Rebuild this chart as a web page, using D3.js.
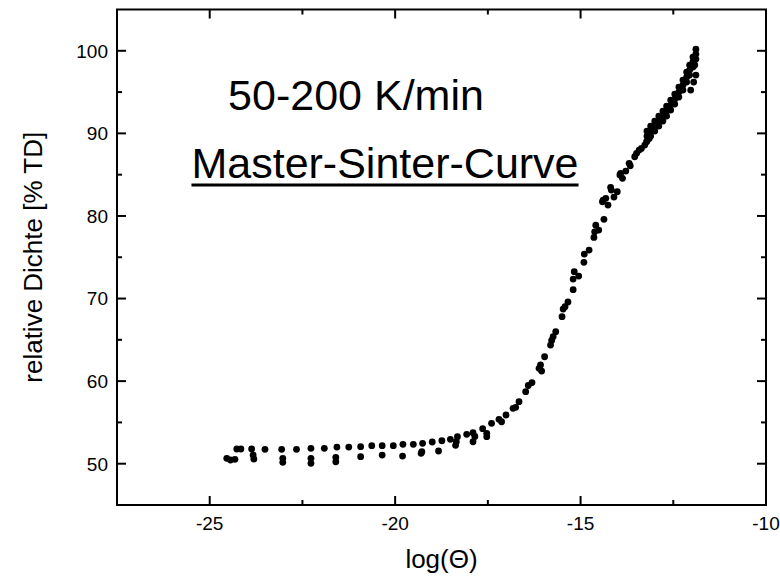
<!DOCTYPE html>
<html>
<head>
<meta charset="utf-8">
<script src="https://cdn.jsdelivr.net/npm/d3@7/dist/d3.min.js"></script>
<style>
  html, body { margin: 0; padding: 0; background: #fff; }
  svg { display: block; font-family: "Liberation Sans", Arial, sans-serif; }
</style>
</head>
<body>
<svg id="chart" width="780" height="583"></svg>
<script>
// ---- data ----
const logTheta = [
  -24.54, -24.44, -24.32, -24.27, -24.16, -23.87, -23.83, -23.81, -23.51, -23.06,
  -23.03, -23.03, -22.66, -22.27, -22.27, -22.27, -21.91, -21.57, -21.60, -21.60,
  -21.25, -20.93, -20.93, -20.63, -20.35, -20.35, -20.05, -19.79, -19.80, -19.51,
  -19.26, -19.28, -19.30, -19.00, -18.74, -18.83, -18.51, -18.32, -18.35, -18.37,
  -18.07, -17.90, -17.90, -17.85, -17.64, -17.53, -17.53, -17.40, -17.20, -17.13,
  -17.01, -16.82, -16.75, -16.66,
  -16.48, -16.41, -16.31, -16.12, -16.08, -16.05, -15.97, -15.81, -15.78, -15.74,
  -15.67, -15.50, -15.47, -15.42, -15.34, -15.20, -15.20, -15.17, -15.05, -14.91,
  -14.90, -14.77, -14.64, -14.62, -14.59, -14.51, -14.37, -14.41, -14.39, -14.32,
  -14.26, -14.17, -14.19, -14.10, -14.01, -13.94, -13.92, -13.87, -13.78, -13.69,
  -13.66, -13.54, -13.49, -13.42, -13.36, -13.27, -13.22, -13.15,
  -13.21, -13.11, -13.00, -12.89, -12.78, -12.68, -12.57, -12.46, -12.35, -12.24, -12.14, -12.06, -11.97, -11.89,
  -13.21, -13.11, -13.00, -12.89, -12.78, -12.68, -12.57, -12.46, -12.35, -12.24, -12.14, -12.06, -11.97, -11.89,
  -13.21, -13.11, -13.00, -12.89, -12.78, -12.68, -12.57, -12.46, -12.35, -12.24, -12.14, -12.06, -11.97, -11.89,
  -11.92, -11.89, -11.95, -12.03
];
const density = [
  50.65, 50.45, 50.53, 51.78, 51.78, 51.78, 51.05, 50.57, 51.74, 51.74,
  50.65, 50.17, 51.74, 51.86, 50.65, 50.05, 51.86, 52.02, 50.77, 50.24,
  52.02, 52.06, 50.85, 52.18, 52.18, 51.05, 52.18, 52.35, 50.93, 52.35,
  52.47, 51.45, 51.26, 52.63, 52.78, 51.54, 52.95, 53.27, 52.66, 52.23,
  53.56, 53.75, 52.66, 53.30, 54.24, 53.68, 53.27, 54.89, 55.38, 55.08,
  55.90, 56.71, 56.83, 57.51,
  58.72, 59.47, 59.83, 61.55, 61.95, 61.22, 62.95, 64.37, 64.92, 65.38,
  65.98, 67.80, 68.73, 69.01, 69.58, 71.07, 72.36, 73.25, 72.72, 74.38,
  75.39, 75.87, 77.40, 78.08, 78.89, 78.29, 79.59, 81.72, 81.92, 82.13,
  81.32, 83.13, 83.46, 82.29, 82.93, 84.96, 85.16, 84.56, 85.44, 86.37,
  86.08, 87.17, 87.58, 87.98, 88.18, 88.58, 88.98, 89.39,
  90.28, 90.88, 91.49, 92.09, 92.70, 93.31, 94.03, 94.76, 95.61, 96.45, 97.42, 98.27, 99.24, 100.20,
  89.67, 90.28, 90.88, 91.49, 92.09, 92.70, 93.43, 94.15, 95.00, 95.85, 96.82, 97.67, 98.64, 99.60,
  89.07, 89.67, 90.28, 90.88, 91.49, 92.09, 92.82, 93.55, 94.39, 95.24, 96.21, 97.06, 98.03, 99.00,
  98.27, 97.06, 96.21, 95.24
];
const xTicks = [-25, -20, -15, -10];
const xTickLabels = ["-25", "-20", "-15", "-10"];
const xMinorTicks = [-27.5, -22.5, -17.5, -12.5];
const yTicks = [50, 60, 70, 80, 90, 100];
const yTickLabels = ["50", "60", "70", "80", "90", "100"];
const yMinorTicks = [55, 65, 75, 85, 95];
const xDomain = [-27.5, -10];
const yDomain = [45, 105];
const xTitle = "log(\u0398)";
const yTitle = "relative Dichte [% TD]";
const note1 = "50-200 K/min";
const note2 = "Master-Sinter-Curve";

// ---- layout ----
const svg = d3.select("#chart");
const L = 117, R = 766, T = 9.5, B = 505;
const MAJ = 9, MIN = 5;
const x = d3.scaleLinear().domain(xDomain).range([L, R]);
const y = d3.scaleLinear().domain(yDomain).range([B, T]);

const ticks = svg.append("g").attr("stroke", "#000").attr("stroke-width", 2);
function xTickMarks(vals, len) {
  ticks.append("g").selectAll("line").data(vals).join("line")
    .attr("x1", d => x(d)).attr("x2", d => x(d)).attr("y1", B).attr("y2", B - len);
  ticks.append("g").selectAll("line").data(vals).join("line")
    .attr("x1", d => x(d)).attr("x2", d => x(d)).attr("y1", T).attr("y2", T + len);
}
function yTickMarks(vals, len) {
  ticks.append("g").selectAll("line").data(vals).join("line")
    .attr("y1", d => y(d)).attr("y2", d => y(d)).attr("x1", L).attr("x2", L + len);
  ticks.append("g").selectAll("line").data(vals).join("line")
    .attr("y1", d => y(d)).attr("y2", d => y(d)).attr("x1", R).attr("x2", R - len);
}
xTickMarks(xTicks, MAJ);
xTickMarks(xMinorTicks, MIN);
yTickMarks(yTicks, MAJ);
yTickMarks(yMinorTicks, MIN);

// tick labels
svg.append("g").selectAll("text").data(xTicks).join("text")
  .attr("x", d => x(d)).attr("y", 530).attr("text-anchor", "middle")
  .attr("font-size", 19).attr("fill", "#000")
  .text((d, i) => xTickLabels[i]);
svg.append("g").selectAll("text").data(yTicks).join("text")
  .attr("x", 108).attr("y", d => y(d)).attr("dy", "0.36em").attr("text-anchor", "end")
  .attr("font-size", 19).attr("fill", "#000")
  .text((d, i) => yTickLabels[i]);

// frame
svg.append("rect").attr("x", L).attr("y", T).attr("width", R - L).attr("height", B - T)
  .attr("fill", "none").attr("stroke", "#000").attr("stroke-width", 2);

// points
const pts = logTheta.map((v, i) => [v, density[i]]);
svg.append("g").selectAll("circle").data(pts).join("circle")
  .attr("cx", d => x(d[0])).attr("cy", d => y(d[1])).attr("r", 3.4).attr("fill", "#000");

// axis titles
svg.append("text").attr("x", (L + R) / 2).attr("y", 568).attr("text-anchor", "middle")
  .attr("font-size", 26).attr("fill", "#000").text(xTitle);
svg.append("text").attr("transform", `translate(42,${(T + B) / 2}) rotate(-90)`)
  .attr("text-anchor", "middle").attr("font-size", 26).attr("fill", "#000").text(yTitle);

// annotations
svg.append("text").attr("x", 356).attr("y", 110).attr("text-anchor", "middle")
  .attr("font-size", 43).attr("fill", "#000").text(note1);
const t2 = svg.append("text").attr("x", 385).attr("y", 178).attr("text-anchor", "middle")
  .attr("font-size", 43).attr("fill", "#000").text(note2);
const bb = t2.node().getBBox();
svg.append("line").attr("x1", bb.x).attr("x2", bb.x + bb.width)
  .attr("y1", 185).attr("y2", 185).attr("stroke", "#000").attr("stroke-width", 3);
</script>
</body>
</html>
